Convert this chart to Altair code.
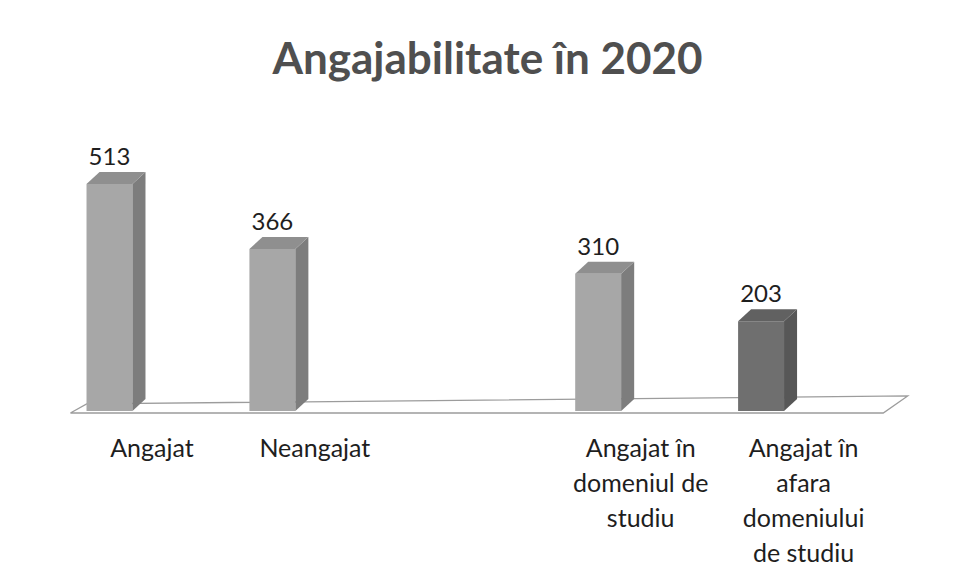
import json
import altair as alt
import pandas as pd

TITLE = "Angajabilitate în 2020"
categories = ["Angajat", "Neangajat", "Angajat în domeniul de studiu",
              "Angajat în afara domeniului de studiu"]
label_lines = [["Angajat"], ["Neangajat"],
               ["Angajat în", "domeniul de", "studiu"],
               ["Angajat în", "afara", "domeniului", "de studiu"]]
values = [513, 366, 310, 203]
slots = [0, 1, 3, 4]  # slot 2 is left empty, as in the original
front_colors = ["#a7a7a7", "#a7a7a7", "#a7a7a7", "#6f6f6f"]
side_colors = ["#7d7d7d", "#7d7d7d", "#7d7d7d", "#575757"]
top_colors = ["#8f8f8f", "#8f8f8f", "#8f8f8f", "#616161"]

# floor outline (slot units / value units)
floor_x = [-0.24, 4.75, 4.90, -0.14, -0.24]
floor_y = [-4.5, -4.5, 34, 16, -4.5]

HW, DX, DY = 0.141, 0.08, 27  # half bar width, depth (x), depth (y)
W, H = 943, 560
XS = alt.Scale(domain=[-0.623, 5.166], nice=False, zero=False)
YS = alt.Scale(domain=[-354.8, 910.7], nice=False, zero=False)

lookup = [[] for _ in range(6)]
for s, ln in zip(slots, label_lines):
    lookup[s] = ln
label_expr = json.dumps(lookup, ensure_ascii=False) + "[datum.value]"

X_AXIS = alt.Axis(values=slots, labelExpr=label_expr, orient="bottom", offset=-112,
                  domain=False, ticks=False, grid=False, labelPadding=0,
                  labelBaseline="alphabetic", labelFont="Lato", labelFontSize=25,
                  labelColor="#1e1e1e", labelLineHeight=35, labelOffset=42,
                  labelAlign="center", labelOverlap=False, labelFlush=False,
                  labelBound=False, title=None)

front = pd.DataFrame({"cat": categories, "x0": [s - HW for s in slots],
                      "x1": [s + HW for s in slots], "v": values,
                      "base": [0] * 4, "col": front_colors, "s": slots})
side_rows, top_rows = [], []
for c, s, v, sc, tc in zip(categories, slots, values, side_colors, top_colors):
    side_rows += [{"cat": c, "x": s + HW, "yt": v, "yb": 0, "col": sc},
                  {"cat": c, "x": s + HW + DX, "yt": v + DY, "yb": DY, "col": sc}]
    top_rows += [{"cat": c, "y": v, "xa": s - HW, "xb": s + HW, "col": tc},
                 {"cat": c, "y": v + DY, "xa": s - HW + DX, "xb": s + HW + DX, "col": tc}]
side = pd.DataFrame(side_rows)
top = pd.DataFrame(top_rows)
floor = pd.DataFrame({"x": floor_x, "y": floor_y, "i": range(len(floor_x))})

floor_l = alt.Chart(floor).mark_line(color="#9c9c9c", strokeWidth=1.3).encode(
    x=alt.X("x:Q", scale=XS, axis=X_AXIS),
    y=alt.Y("y:Q", scale=YS, axis=None),
    order="i:Q")

front_l = alt.Chart(front).mark_rect().encode(
    x=alt.X("x0:Q", scale=XS, axis=X_AXIS), x2="x1:Q",
    y=alt.Y("v:Q", scale=YS, axis=None), y2="base:Q",
    color=alt.Color("col:N", scale=None))

side_l = alt.Chart(side).mark_area(orient="vertical").encode(
    x=alt.X("x:Q", scale=XS, axis=X_AXIS),
    y=alt.Y("yt:Q", scale=YS, axis=None), y2="yb:Q",
    detail="cat:N", color=alt.Color("col:N", scale=None))

top_l = alt.Chart(top).mark_area(orient="horizontal").encode(
    y=alt.Y("y:Q", scale=YS, axis=None),
    x=alt.X("xa:Q", scale=XS, axis=X_AXIS), x2="xb:Q",
    detail="cat:N", color=alt.Color("col:N", scale=None))

text_l = alt.Chart(front).mark_text(dy=-19, baseline="alphabetic", font="Lato",
                                    fontSize=24, color="#1e1e1e").encode(
    x=alt.X("s:Q", scale=XS, axis=X_AXIS),
    y=alt.Y("v:Q", scale=YS, axis=None),
    text="v:Q")

chart = alt.layer(floor_l, front_l, side_l, top_l, text_l).properties(
    width=W, height=H, padding=0, autosize=alt.AutoSizeParams(type="none"),
    background="white",
    title=alt.TitleParams(TITLE, font="Lato", fontSize=44, fontWeight="bold",
                          color="#4f4f4f", anchor="middle", baseline="alphabetic",
                          offset=0, dy=110, dx=8),
).configure_view(stroke=None)

chart.save("out.html", embed_options={"renderer": "svg", "actions": False})
